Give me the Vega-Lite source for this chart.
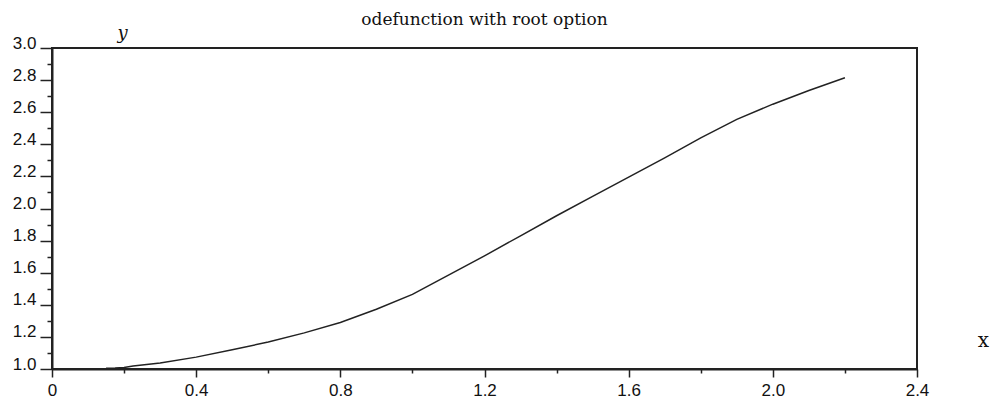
{
  "$schema": "https://vega.github.io/schema/vega-lite/v6.json",
  "width": 865,
  "height": 321,
  "autosize": "none",
  "padding": {"left": 52, "top": 48, "right": 76, "bottom": 31},
  "background": "white",
  "config": {"view": {"stroke": "#222", "strokeWidth": 2}},
  "title": {
    "text": "odefunction with root option",
    "font": "DejaVu Serif",
    "fontSize": 17,
    "fontWeight": "normal",
    "frame": "group",
    "anchor": "middle",
    "baseline": "alphabetic",
    "offset": 0,
    "dy": 18,
    "color": "#111"
  },
  "data": {
    "values": [
      {"x": 0.15, "y": 1.004},
      {"x": 0.175, "y": 1.006},
      {"x": 0.2, "y": 1.01},
      {"x": 0.225, "y": 1.018},
      {"x": 0.3, "y": 1.038},
      {"x": 0.4, "y": 1.074},
      {"x": 0.5, "y": 1.12},
      {"x": 0.6, "y": 1.168},
      {"x": 0.7, "y": 1.225},
      {"x": 0.8, "y": 1.29},
      {"x": 0.9, "y": 1.372},
      {"x": 1.0, "y": 1.465},
      {"x": 1.1, "y": 1.585},
      {"x": 1.2, "y": 1.705},
      {"x": 1.3, "y": 1.83},
      {"x": 1.4, "y": 1.955},
      {"x": 1.5, "y": 2.075},
      {"x": 1.6, "y": 2.195},
      {"x": 1.7, "y": 2.315},
      {"x": 1.8, "y": 2.44},
      {"x": 1.9, "y": 2.555},
      {"x": 2.0, "y": 2.65},
      {"x": 2.1, "y": 2.735},
      {"x": 2.2, "y": 2.815}
    ]
  },
  "mark": {"type": "line", "color": "#222", "strokeWidth": 1.5},
  "encoding": {
    "x": {
      "field": "x",
      "type": "quantitative",
      "scale": {"domain": [0, 2.4], "nice": false, "zero": false},
      "axis": {
        "title": "x",
        "values": [0, 0.2, 0.4, 0.6, 0.8, 1.0, 1.2, 1.4, 1.6, 1.8, 2.0, 2.2, 2.4],
        "grid": false,
        "domainColor": "#222",
        "domainWidth": 2,
        "tickColor": "#222",
        "tickWidth": 1.5,
        "tickSize": {"condition": {"test": "abs(datum.value*2.5 - round(datum.value*2.5)) < 0.001", "value": 8}, "value": 4},
        "labelExpr": "abs(datum.value*2.5 - round(datum.value*2.5)) < 0.001 ? (datum.value == 0 ? '0' : format(datum.value, '.1f')) : ''",
        "labelFont": "Liberation Sans",
        "labelFontSize": 17,
        "labelColor": "#111",
        "labelPadding": 5,
        "labelOverlap": false,
        "labelFlush": false,
        "titleFont": "DejaVu Serif",
        "titleFontSize": 20,
        "titleFontWeight": "normal",
        "titleColor": "#111",
        "titleX": 931,
        "titleY": -29,
        "titleAlign": "center",
        "titleBaseline": "middle"
      }
    },
    "y": {
      "field": "y",
      "type": "quantitative",
      "scale": {"domain": [1.0, 3.0], "nice": false, "zero": false},
      "axis": {
        "title": "y",
        "values": [1.0, 1.1, 1.2, 1.3, 1.4, 1.5, 1.6, 1.7, 1.8, 1.9, 2.0, 2.1, 2.2, 2.3, 2.4, 2.5, 2.6, 2.7, 2.8, 2.9, 3.0],
        "grid": false,
        "domainColor": "#222",
        "domainWidth": 2,
        "tickColor": "#222",
        "tickWidth": 1.5,
        "tickSize": {"condition": {"test": "abs(datum.value*5 - round(datum.value*5)) < 0.001", "value": 12}, "value": 5},
        "labelExpr": "abs(datum.value*5 - round(datum.value*5)) < 0.001 ? format(datum.value, '.1f') : ''",
        "labelFont": "Liberation Sans",
        "labelFontSize": 17,
        "labelColor": "#111",
        "labelBaseline": "alphabetic",
        "labelPadding": 4,
        "labelOverlap": false,
        "labelFlush": false,
        "titleFont": "DejaVu Serif",
        "titleFontSize": 18,
        "titleFontStyle": "italic",
        "titleFontWeight": "normal",
        "titleColor": "#111",
        "titleAngle": 0,
        "titleX": 70,
        "titleY": -10,
        "titleAlign": "center",
        "titleBaseline": "alphabetic"
      }
    }
  }
}
